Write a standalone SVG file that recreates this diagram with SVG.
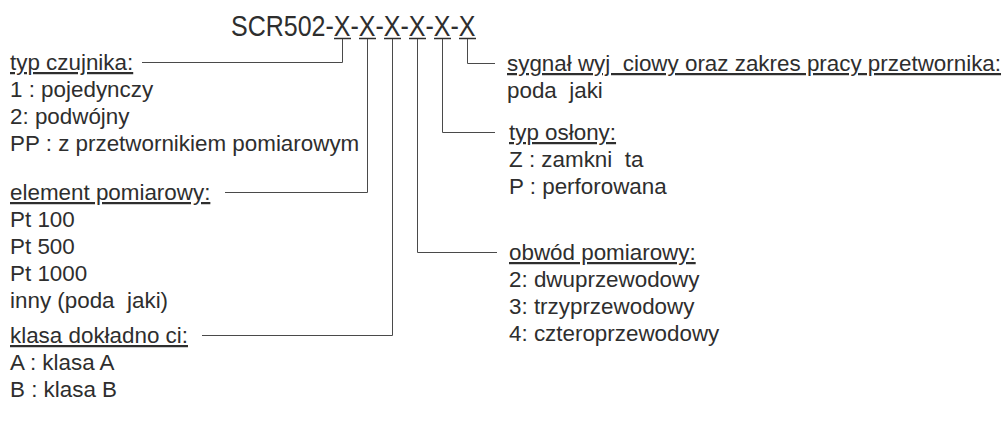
<svg xmlns="http://www.w3.org/2000/svg" width="1002" height="432" viewBox="0 0 1002 432">
<style>
  text { font-family: "Liberation Sans", Arial, sans-serif; fill: #2e2e2e; }
  .t { font-size: 22.4px; }
  .h { font-size: 22.4px; text-decoration: underline; }
  .title { font-size: 29px; }
  .ln { stroke: #4a4a4a; stroke-width: 1; fill: none; }
  .ul { stroke: #2e2e2e; stroke-width: 1.6; }
</style>
<rect width="1002" height="432" fill="#ffffff"/>
<g id="title">
  <text class="title" x="231" y="36" textLength="244.5" lengthAdjust="spacingAndGlyphs">SCR502-X-X-X-X-X-X</text>
  <path class="ul" d="M334 38.5H351M359 38.5H376M384 38.5H401M409 38.5H426M434 38.5H451M459 38.5H476"/>
</g>
<g id="connectors">
  <path class="ln" d="M342.5 39V62.5H142"/>
  <path class="ln" d="M367.5 39V192.5H225"/>
  <path class="ln" d="M392.5 39V335.5H202"/>
  <path class="ln" d="M417.5 39V252.5H497"/>
  <path class="ln" d="M442.5 39V132.5H495"/>
  <path class="ln" d="M467.5 39V63.5H495"/>
</g>
<g id="typ-czujnika">
  <text class="h" x="10" y="70">typ czujnika:</text>
  <text class="t" x="10" y="97">1 : pojedynczy</text>
  <text class="t" x="10" y="124">2: podwójny</text>
  <text class="t" x="10" y="151">PP : z przetwornikiem pomiarowym</text>
</g>
<g id="element-pomiarowy">
  <text class="h" x="10" y="200">element pomiarowy:</text>
  <text class="t" x="10" y="227">Pt 100</text>
  <text class="t" x="10" y="254">Pt 500</text>
  <text class="t" x="10" y="281">Pt 1000</text>
  <text class="t" x="10" y="308" xml:space="preserve">inny (poda  jaki)</text>
</g>
<g id="klasa-dokladnosci">
  <text class="h" x="10" y="343" xml:space="preserve">klasa dokładno ci:</text>
  <text class="t" x="10" y="370">A : klasa A</text>
  <text class="t" x="10" y="397">B : klasa B</text>
</g>
<g id="sygnal-wyjsciowy">
  <text class="h" x="507" y="71" xml:space="preserve">sygnał wyj  ciowy oraz zakres pracy przetwornika:</text>
  <text class="t" x="507" y="98" xml:space="preserve">poda  jaki</text>
</g>
<g id="typ-oslony">
  <text class="h" x="509" y="140">typ osłony:</text>
  <text class="t" x="509" y="167" xml:space="preserve">Z : zamkni  ta</text>
  <text class="t" x="509" y="194">P : perforowana</text>
</g>
<g id="obwod-pomiarowy">
  <text class="h" x="509" y="260">obwód pomiarowy:</text>
  <text class="t" x="509" y="287">2: dwuprzewodowy</text>
  <text class="t" x="509" y="314">3: trzyprzewodowy</text>
  <text class="t" x="509" y="341">4: czteroprzewodowy</text>
</g>
</svg>
